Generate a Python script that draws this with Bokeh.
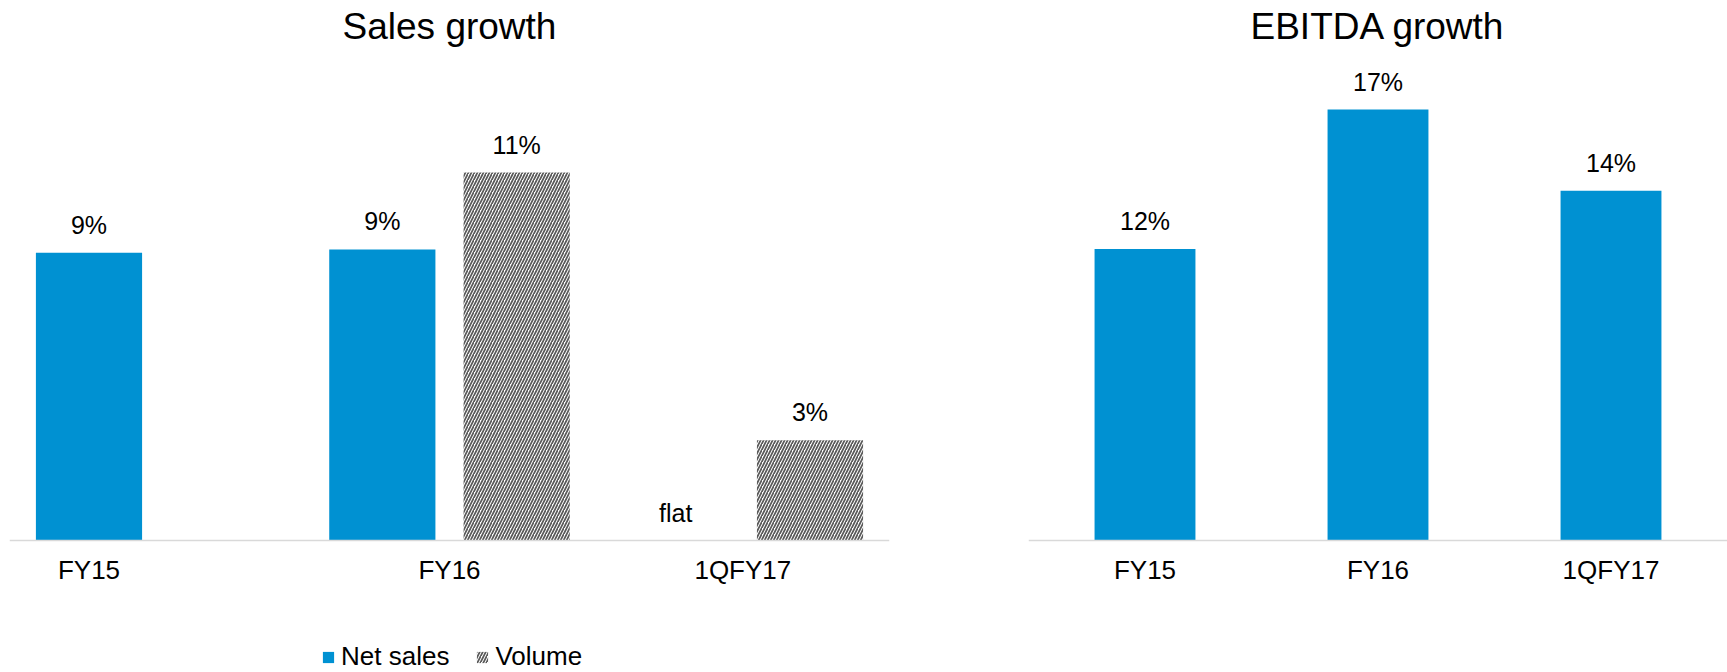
from bokeh.plotting import figure
from bokeh.layouts import row
from bokeh.models import Label, Legend, LegendItem, Range1d, Span
from bokeh.core.properties import value
from bokeh.embed import file_html
from bokeh.resources import INLINE

# ---------------- data ----------------
categories = ["FY15", "FY16", "1QFY17"]
net_sales = [8.6, 8.7, 0.0]
net_sales_labels = ["9%", "9%", "flat"]
volume = [None, 11.0, 3.0]
volume_labels = [None, "11%", "3%"]
ebitda = [11.5, 17.0, 13.8]
ebitda_labels = ["12%", "17%", "14%"]

# ---------------- style ----------------
BLUE = "#0091d2"
HATCH = "#595959"
AXIS = "#d9d9d9"
FONT = "Liberation Sans"
CAT_SIZE = "26px"
VAL_SIZE = "25px"
TITLE_SIZE = "37px"
DODGE = 0.229
LEFT_WIDTH = 0.362
RIGHT_WIDTH = 0.433
HEIGHT = 672
BASELINE_FROM_BOTTOM = 132   # px between the zero line and the bottom of the figure
TITLE_BASELINE = 26          # px from top of figure to title anchor


def make_fig(title, width, border_left, border_right, px_per_unit):
    y_top = (HEIGHT - BASELINE_FROM_BOTTOM) / px_per_unit
    y_bottom = -BASELINE_FROM_BOTTOM / px_per_unit
    p = figure(width=width, height=HEIGHT, x_range=Range1d(-0.5, 2.5),
               y_range=Range1d(y_bottom, y_top),
               output_backend="svg", toolbar_location=None,
               x_axis_location=None, y_axis_location=None,
               min_border_left=border_left, min_border_right=border_right,
               min_border_top=0, min_border_bottom=0)
    p.grid.visible = False
    p.outline_line_color = None
    p.add_layout(Span(location=0, dimension="width", line_color=AXIS, line_width=1.5))
    p.add_layout(Label(x=1, y=HEIGHT - TITLE_BASELINE, x_units="data", y_units="screen",
                       text=title, text_align="center", text_baseline="alphabetic",
                       text_font=FONT, text_font_size=TITLE_SIZE, text_color="black"))
    return p


def value_labels(p, xs, ys, texts):
    p.text(x=xs, y=ys, text=texts, text_align="center", text_baseline="alphabetic",
           y_offset=-28, text_font=value(FONT), text_font_size=VAL_SIZE,
           text_color="black")


def category_labels(p, xs, texts):
    p.text(x=xs, y=[0] * len(xs), text=texts, text_align="center",
           text_baseline="alphabetic", y_offset=29, text_font=value(FONT),
           text_font_size=CAT_SIZE, text_color="black")


# ---------------- left: Sales growth ----------------
left = make_fig("Sales growth", 950, 9, 61, 33.45)

net_x = [i - DODGE for i in range(len(categories))]
vol_idx = [i for i, v in enumerate(volume) if v is not None]
vol_x = [i + DODGE for i in vol_idx]
vol_y = [volume[i] for i in vol_idx]

r_net = left.vbar(x=net_x, top=net_sales, width=LEFT_WIDTH, fill_color=BLUE, line_color=None)
r_vol = left.vbar(x=vol_x, top=vol_y, width=LEFT_WIDTH, fill_color="white", line_color=None,
                  hatch_pattern="/", hatch_color=HATCH, hatch_scale=6, hatch_weight=1.7)

value_labels(left, net_x, net_sales, net_sales_labels)
value_labels(left, vol_x, vol_y, [volume_labels[i] for i in vol_idx])

# category label sits under the centre of the bars present for that category
left_cat_x = []
for i in range(len(categories)):
    xs = [i - DODGE] + ([i + DODGE] if volume[i] is not None else [])
    left_cat_x.append(sum(xs) / len(xs))
category_labels(left, left_cat_x, categories)

legend = Legend(items=[LegendItem(label="Net sales", renderers=[r_net]),
                       LegendItem(label="Volume", renderers=[r_vol])],
                orientation="horizontal", location=(312, 0),
                label_text_font=FONT, label_text_font_size=CAT_SIZE, label_text_color="black",
                glyph_width=14, glyph_height=14, label_standoff=6, spacing=26,
                padding=0, margin=0, border_line_color=None, background_fill_alpha=0)
left.add_layout(legend, "center")

# ---------------- right: EBITDA growth ----------------
right = make_fig("EBITDA growth", 777, 78, 0, 25.35)
ebitda_x = list(range(len(categories)))
right.vbar(x=ebitda_x, top=ebitda, width=RIGHT_WIDTH, fill_color=BLUE, line_color=None)
value_labels(right, ebitda_x, ebitda, ebitda_labels)
category_labels(right, ebitda_x, categories)

layout = row(left, right)
open("out.html", "w").write(file_html(layout, INLINE))
